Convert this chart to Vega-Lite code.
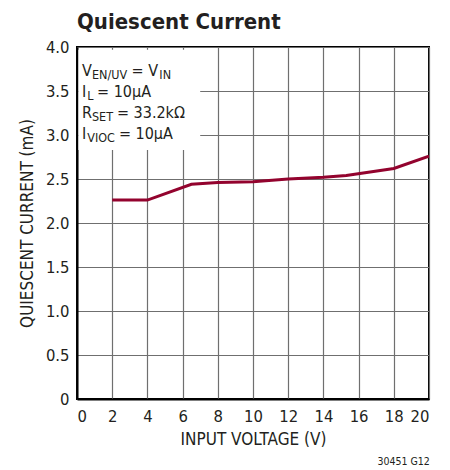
{
  "$schema": "https://vega.github.io/schema/vega-lite/v6.json",
  "autosize": "none",
  "width": 352,
  "height": 352,
  "padding": {"left": 77, "top": 47, "right": 21, "bottom": 71},
  "background": "white",
  "config": {
    "font": "'Liberation Sans Narrow', 'DejaVu Sans Condensed', 'Roboto Condensed', 'Liberation Sans', sans-serif",
    "view": {"stroke": "#000000", "strokeWidth": 2},
    "axis": {
      "grid": true,
      "gridColor": "#6f6f6f",
      "gridWidth": 1.2,
      "domainColor": "#000000",
      "domainWidth": 2,
      "ticks": false,
      "labelOverlap": false,
      "labelFont": "'Liberation Sans Narrow', 'DejaVu Sans Condensed', 'Roboto Condensed', 'Liberation Sans', sans-serif",
      "labelFontSize": 16.5,
      "labelColor": "#231F20",
      "titleFont": "'Liberation Sans Narrow', 'DejaVu Sans Condensed', 'Roboto Condensed', 'Liberation Sans', sans-serif",
      "titleFontSize": 17,
      "titleFontWeight": "normal",
      "titleColor": "#231F20"
    },
    "axisX": {"labelPadding": 9, "titlePadding": 7},
    "axisY": {"labelPadding": 8, "titlePadding": 9}
  },
  "title": {
    "text": "Quiescent Current",
    "anchor": "start",
    "frame": "group",
    "baseline": "top",
    "offset": 0,
    "dy": -5,
    "font": "'Liberation Sans Narrow', 'DejaVu Sans Condensed', 'Roboto Condensed', 'Liberation Sans', sans-serif",
    "fontSize": 22,
    "fontWeight": "bold",
    "color": "#231F20"
  },
  "data": {
    "values": [
      {"vin": 2, "iq": 2.26},
      {"vin": 4, "iq": 2.26},
      {"vin": 6.5, "iq": 2.44},
      {"vin": 8, "iq": 2.46},
      {"vin": 10, "iq": 2.47},
      {"vin": 12, "iq": 2.5},
      {"vin": 14, "iq": 2.52},
      {"vin": 15.3, "iq": 2.54},
      {"vin": 18, "iq": 2.62},
      {"vin": 20, "iq": 2.76}
    ]
  },
  "layer": [
    {
      "mark": {"type": "line", "color": "#93032E", "strokeWidth": 3, "clip": true},
      "encoding": {
        "x": {
          "field": "vin", "type": "quantitative",
          "scale": {"domain": [0, 20], "nice": false},
          "axis": {"values": [0, 2, 4, 6, 8, 10, 12, 14, 16, 18, 20], "title": "INPUT VOLTAGE (V)"}
        },
        "y": {
          "field": "iq", "type": "quantitative",
          "scale": {"domain": [0, 4], "nice": false},
          "axis": {"values": [0, 0.5, 1, 1.5, 2, 2.5, 3, 3.5, 4], "labelExpr": "datum.value == 0 ? '0' : format(datum.value, '.1f')", "title": "QUIESCENT CURRENT (mA)"}
        }
      }
    },
    {
      "data": {"values": [{}]},
      "mark": {"type": "rect", "color": "white"},
      "encoding": {
        "x": {"datum": 0.08, "type": "quantitative", "axis": {"values": [0, 2, 4, 6, 8, 10, 12, 14, 16, 18, 20]}},
        "x2": {"datum": 7},
        "y": {"datum": 2.83, "type": "quantitative", "axis": {"values": [0, 0.5, 1, 1.5, 2, 2.5, 3, 3.5, 4]}},
        "y2": {"datum": 3.97}
      }
    },
    {
      "data": {"values": [{}]},
      "mark": {"type": "text", "text": "V", "align": "left", "baseline": "alphabetic", "fontSize": 16, "color": "#231F20"},
      "encoding": {"x": {"datum": 0.28, "type": "quantitative", "axis": {"values": [0, 2, 4, 6, 8, 10, 12, 14, 16, 18, 20]}}, "y": {"datum": 3.67, "type": "quantitative", "axis": {"values": [0, 0.5, 1, 1.5, 2, 2.5, 3, 3.5, 4]}}}
    },
    {
      "data": {"values": [{}]},
      "mark": {"type": "text", "text": "EN/UV", "align": "left", "baseline": "alphabetic", "fontSize": 12.5, "color": "#231F20"},
      "encoding": {"x": {"datum": 0.85, "type": "quantitative", "axis": {"values": [0, 2, 4, 6, 8, 10, 12, 14, 16, 18, 20]}}, "y": {"datum": 3.635, "type": "quantitative", "axis": {"values": [0, 0.5, 1, 1.5, 2, 2.5, 3, 3.5, 4]}}}
    },
    {
      "data": {"values": [{}]},
      "mark": {"type": "text", "text": "= V", "align": "left", "baseline": "alphabetic", "fontSize": 16, "color": "#231F20"},
      "encoding": {"x": {"datum": 3.1, "type": "quantitative", "axis": {"values": [0, 2, 4, 6, 8, 10, 12, 14, 16, 18, 20]}}, "y": {"datum": 3.67, "type": "quantitative", "axis": {"values": [0, 0.5, 1, 1.5, 2, 2.5, 3, 3.5, 4]}}}
    },
    {
      "data": {"values": [{}]},
      "mark": {"type": "text", "text": "IN", "align": "left", "baseline": "alphabetic", "fontSize": 12.5, "color": "#231F20"},
      "encoding": {"x": {"datum": 4.68, "type": "quantitative", "axis": {"values": [0, 2, 4, 6, 8, 10, 12, 14, 16, 18, 20]}}, "y": {"datum": 3.635, "type": "quantitative", "axis": {"values": [0, 0.5, 1, 1.5, 2, 2.5, 3, 3.5, 4]}}}
    },
    {
      "data": {"values": [{}]},
      "mark": {"type": "text", "text": "I", "align": "left", "baseline": "alphabetic", "fontSize": 16, "color": "#231F20"},
      "encoding": {"x": {"datum": 0.28, "type": "quantitative", "axis": {"values": [0, 2, 4, 6, 8, 10, 12, 14, 16, 18, 20]}}, "y": {"datum": 3.43, "type": "quantitative", "axis": {"values": [0, 0.5, 1, 1.5, 2, 2.5, 3, 3.5, 4]}}}
    },
    {
      "data": {"values": [{}]},
      "mark": {"type": "text", "text": "L", "align": "left", "baseline": "alphabetic", "fontSize": 12.5, "color": "#231F20"},
      "encoding": {"x": {"datum": 0.58, "type": "quantitative", "axis": {"values": [0, 2, 4, 6, 8, 10, 12, 14, 16, 18, 20]}}, "y": {"datum": 3.395, "type": "quantitative", "axis": {"values": [0, 0.5, 1, 1.5, 2, 2.5, 3, 3.5, 4]}}}
    },
    {
      "data": {"values": [{}]},
      "mark": {"type": "text", "text": "= 10µA", "align": "left", "baseline": "alphabetic", "fontSize": 16, "color": "#231F20"},
      "encoding": {"x": {"datum": 1.14, "type": "quantitative", "axis": {"values": [0, 2, 4, 6, 8, 10, 12, 14, 16, 18, 20]}}, "y": {"datum": 3.43, "type": "quantitative", "axis": {"values": [0, 0.5, 1, 1.5, 2, 2.5, 3, 3.5, 4]}}}
    },
    {
      "data": {"values": [{}]},
      "mark": {"type": "text", "text": "R", "align": "left", "baseline": "alphabetic", "fontSize": 16, "color": "#231F20"},
      "encoding": {"x": {"datum": 0.28, "type": "quantitative", "axis": {"values": [0, 2, 4, 6, 8, 10, 12, 14, 16, 18, 20]}}, "y": {"datum": 3.19, "type": "quantitative", "axis": {"values": [0, 0.5, 1, 1.5, 2, 2.5, 3, 3.5, 4]}}}
    },
    {
      "data": {"values": [{}]},
      "mark": {"type": "text", "text": "SET", "align": "left", "baseline": "alphabetic", "fontSize": 12.5, "color": "#231F20"},
      "encoding": {"x": {"datum": 0.85, "type": "quantitative", "axis": {"values": [0, 2, 4, 6, 8, 10, 12, 14, 16, 18, 20]}}, "y": {"datum": 3.155, "type": "quantitative", "axis": {"values": [0, 0.5, 1, 1.5, 2, 2.5, 3, 3.5, 4]}}}
    },
    {
      "data": {"values": [{}]},
      "mark": {"type": "text", "text": "= 33.2kΩ", "align": "left", "baseline": "alphabetic", "fontSize": 16, "color": "#231F20"},
      "encoding": {"x": {"datum": 2.27, "type": "quantitative", "axis": {"values": [0, 2, 4, 6, 8, 10, 12, 14, 16, 18, 20]}}, "y": {"datum": 3.19, "type": "quantitative", "axis": {"values": [0, 0.5, 1, 1.5, 2, 2.5, 3, 3.5, 4]}}}
    },
    {
      "data": {"values": [{}]},
      "mark": {"type": "text", "text": "I", "align": "left", "baseline": "alphabetic", "fontSize": 16, "color": "#231F20"},
      "encoding": {"x": {"datum": 0.28, "type": "quantitative", "axis": {"values": [0, 2, 4, 6, 8, 10, 12, 14, 16, 18, 20]}}, "y": {"datum": 2.955, "type": "quantitative", "axis": {"values": [0, 0.5, 1, 1.5, 2, 2.5, 3, 3.5, 4]}}}
    },
    {
      "data": {"values": [{}]},
      "mark": {"type": "text", "text": "VIOC", "align": "left", "baseline": "alphabetic", "fontSize": 12.5, "color": "#231F20"},
      "encoding": {"x": {"datum": 0.58, "type": "quantitative", "axis": {"values": [0, 2, 4, 6, 8, 10, 12, 14, 16, 18, 20]}}, "y": {"datum": 2.92, "type": "quantitative", "axis": {"values": [0, 0.5, 1, 1.5, 2, 2.5, 3, 3.5, 4]}}}
    },
    {
      "data": {"values": [{}]},
      "mark": {"type": "text", "text": "= 10µA", "align": "left", "baseline": "alphabetic", "fontSize": 16, "color": "#231F20"},
      "encoding": {"x": {"datum": 2.38, "type": "quantitative", "axis": {"values": [0, 2, 4, 6, 8, 10, 12, 14, 16, 18, 20]}}, "y": {"datum": 2.955, "type": "quantitative", "axis": {"values": [0, 0.5, 1, 1.5, 2, 2.5, 3, 3.5, 4]}}}
    },
    {
      "data": {"values": [{}]},
      "mark": {"type": "text", "text": "30451 G12", "align": "right", "baseline": "alphabetic", "fontSize": 10.5, "color": "#231F20", "clip": false},
      "encoding": {"x": {"datum": 20.05, "type": "quantitative", "axis": {"values": [0, 2, 4, 6, 8, 10, 12, 14, 16, 18, 20]}}, "y": {"datum": -0.75, "type": "quantitative", "axis": {"values": [0, 0.5, 1, 1.5, 2, 2.5, 3, 3.5, 4]}}}
    }
  ]
}
